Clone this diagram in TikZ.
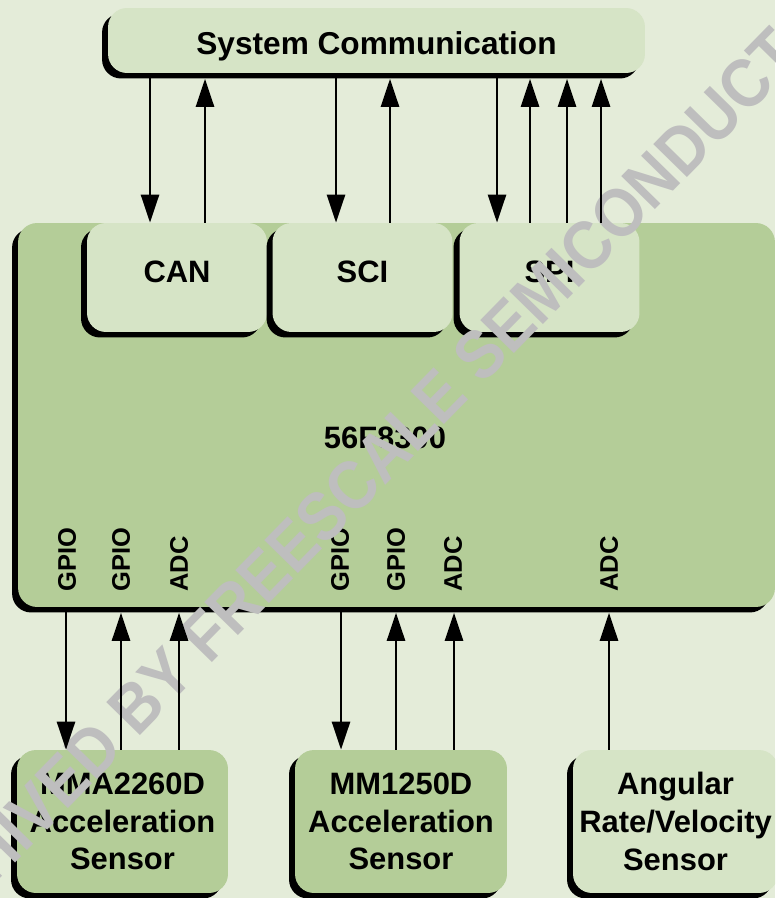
\documentclass[tikz,border=0pt]{standalone}
\usepackage{fontspec}
\setmainfont{Liberation Sans}
\usetikzlibrary{arrows.meta,shadows}
\definecolor{pagebg}{HTML}{E4ECD9}
\definecolor{lightgrn}{HTML}{D6E4C6}
\definecolor{midgrn}{HTML}{B4CD98}
\definecolor{wmgray}{HTML}{BEBEBE}

\begin{document}
\begin{tikzpicture}[x=0.02cm,y=-0.02cm,
  box/.style={rounded corners=0.38cm, inner sep=0pt, align=center,
    font=\bfseries\fontsize{17.6}{21.5}\selectfont,
    drop shadow={shadow xshift=-0.12cm, shadow yshift=-0.11cm, fill=black, opacity=1}},
  unit/.style={box, fill=lightgrn, minimum width=3.6cm, minimum height=2.18cm,
    text height=12.7pt, text depth=6.7pt},
  sensor/.style={box, minimum width=4.22cm, minimum height=2.86cm},
  port/.style={rotate=90, anchor=west, inner sep=0pt,
    font=\bfseries\fontsize{14.5}{16}\selectfont},
  wmark/.style={rotate=45.6, xscale=0.9, anchor=base west, inner sep=0pt, text=wmgray,
    font=\bfseries\fontsize{39}{44}\selectfont},
  sig/.style={line width=1.5pt, -{Triangle[length=0.56cm,width=0.36cm]}},
  sigup/.style={sig, shorten >=0.11cm}]
\useasboundingbox (0,0) rectangle (775,898);
\clip (0,0) rectangle (775,898);
\fill[pagebg] (0,0) rectangle (775,898);

\node[box, fill=lightgrn, minimum width=10.74cm, minimum height=1.3cm,
  font=\bfseries\fontsize{18}{21.5}\selectfont,
  text height=16pt, text depth=0pt] (sys) at (376.5,40.5) {System Communication};

\node[box, fill=midgrn, minimum width=15.14cm, minimum height=7.68cm] (mcu) at (396.5,415) {};
\node[unit] (can) at (177,277.5) {CAN};
\node[unit] (sci) at (362.5,277.5) {SCI};
\node[unit] (spi) at (549.5,277.5) {SPI};
\node[font=\bfseries\fontsize{17.6}{21.5}\selectfont, inner sep=0pt] (core) at (385,437.5) {56F8300};

\foreach \x/\t [count=\i] in {67/GPIO,121/GPIO,179/ADC,340/GPIO,396/GPIO,453/ADC,609/ADC}
  \node[port] (p\i) at (\x,592) {\t};

\node[sensor, fill=midgrn] (mma) at (122.5,821.5) {MMA2260D\\Acceleration\\Sensor};
\node[sensor, fill=midgrn, minimum width=4.24cm] (mm) at (401,821.5) {MM1250D\\Acceleration\\Sensor};
\node[sensor, fill=lightgrn, minimum width=4.1cm] (ang) at (675.5,821.5) {Angular\\Rate/Velocity\\Sensor};

\node[wmark] (wm) at (-100,981) {ARCHIVED BY FREESCALE SEMICONDUCTOR, INC.};

\foreach \x/\n in {150/can,336/sci,497/spi}
  \draw[sig] (sys.south -| \x,0) -- (\n.north -| \x,0);
\foreach \x/\n in {205/can,390/sci,530/spi,567/spi,601/spi}
  \draw[sigup] (\n.north -| \x,0) -- (sys.south -| \x,0);
\foreach \x/\n in {66/mma,341/mm}
  \draw[sig] (mcu.south -| \x,0) -- (\n.north -| \x,0);
\foreach \x/\n in {121/mma,179/mma,396/mm,454/mm,609/ang}
  \draw[sigup] (\n.north -| \x,0) -- (mcu.south -| \x,0);
\end{tikzpicture}
\end{document}
